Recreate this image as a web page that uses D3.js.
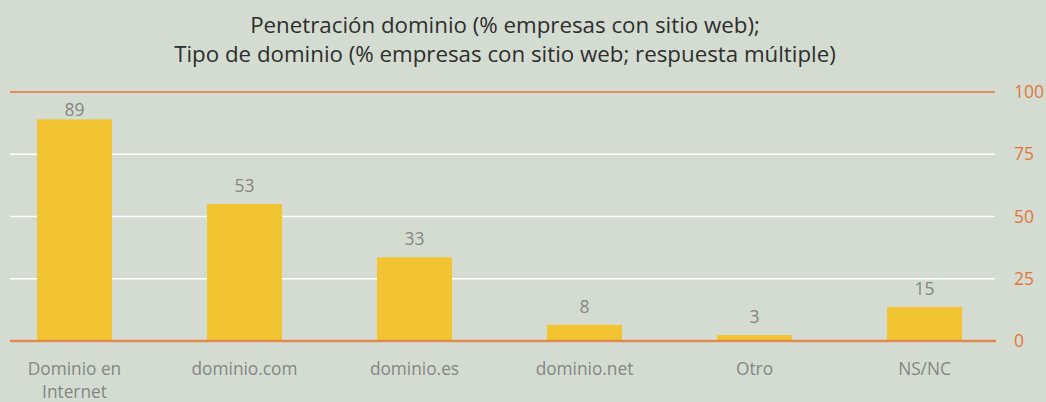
<!DOCTYPE html>
<html>
<head>
<meta charset="utf-8">
<script src="https://cdn.jsdelivr.net/npm/d3@7"></script>
<style>
  body { margin: 0; background: #d4dcd1; }
  svg { display: block; }
  text { font-family: "Open Sans", sans-serif; }
</style>
</head>
<body>
<svg width="1046" height="402"></svg>
<script>
var categories = [["Dominio en", "Internet"], ["dominio.com"], ["dominio.es"], ["dominio.net"], ["Otro"], ["NS/NC"]];
var values = [89, 55, 33.6, 6.5, 2.4, 13.7];   // bar heights as drawn
var valueLabels = ["89", "53", "33", "8", "3", "15"];  // printed labels
var yTicks = [0, 25, 50, 75, 100];
var titleLines = ["Penetración dominio (% empresas con sitio web);",
                  "Tipo de dominio (% empresas con sitio web; respuesta múltiple)"];

var svg = d3.select("svg");
var data = categories.map(function(c, i) { return {cat: c, key: c.join(" "), val: values[i], label: valueLabels[i]}; });

var xScale = d3.scaleBand()
  .domain(data.map(function(d) { return d.key; }))
  .range([-10.5, 1009.5])
  .paddingInner(0.5588)
  .paddingOuter(0.2794);
var yScale = d3.scaleLinear().domain([0, 100]).range([341, 92]);

// title
svg.append("g").selectAll("text")
  .data(titleLines)
  .enter().append("text")
  .attr("x", 505)
  .attr("y", function(d, i) { return 33 + i * 29; })
  .attr("text-anchor", "middle")
  .style("font-size", "22.3px")
  .style("fill", "#2e2e2e")
  .text(function(d) { return d; });

// gridlines
svg.append("g").selectAll("line")
  .data(yTicks.filter(function(t) { return t > 0; }))
  .enter().append("line")
  .attr("x1", 10).attr("x2", 995)
  .attr("y1", function(d) { return yScale(d); })
  .attr("y2", function(d) { return yScale(d); })
  .style("stroke", function(d) { return d == 100 ? "#e2753a" : "#ffffff"; })
  .style("stroke-width", 1.5);

// right axis
var yAxis = svg.append("g")
  .attr("transform", "translate(1008,0)")
  .call(d3.axisRight(yScale).tickValues(yTicks).tickSize(0).tickPadding(6));
yAxis.select(".domain").remove();
yAxis.selectAll("text")
  .style("font-size", "17.5px")
  .style("fill", "#e2753a")
  .attr("font-family", null);

// bars
svg.append("g").selectAll("rect")
  .data(data)
  .enter().append("rect")
  .attr("x", function(d) { return xScale(d.key); })
  .attr("y", function(d) { return yScale(d.val); })
  .attr("width", xScale.bandwidth())
  .attr("height", function(d) { return yScale(0) - yScale(d.val); })
  .style("fill", "#f2c431");

// baseline
svg.append("line")
  .attr("x1", 10).attr("x2", 996)
  .attr("y1", yScale(0)).attr("y2", yScale(0))
  .style("stroke", "#df8a50")
  .style("stroke-width", 2.5);

// value labels
svg.append("g").selectAll("text")
  .data(data)
  .enter().append("text")
  .attr("x", function(d) { return xScale(d.key) + xScale.bandwidth() / 2; })
  .attr("y", function(d) { return Math.max(yScale(100) + 24, yScale(d.val) - 12); })
  .attr("text-anchor", "middle")
  .style("font-size", "17.5px")
  .style("fill", "#858585")
  .text(function(d) { return d.label; });

// category labels
var catText = svg.append("g").selectAll("text")
  .data(data)
  .enter().append("text")
  .attr("text-anchor", "middle")
  .style("font-size", "17.3px")
  .style("fill", "#858585");
catText.selectAll("tspan")
  .data(function(d) { return d.cat.map(function(t) { return {t: t, x: xScale(d.key) + xScale.bandwidth() / 2}; }); })
  .enter().append("tspan")
  .attr("x", function(d) { return d.x; })
  .attr("y", function(d, i) { return 375 + i * 23; })
  .text(function(d) { return d.t; });
</script>
</body>
</html>
